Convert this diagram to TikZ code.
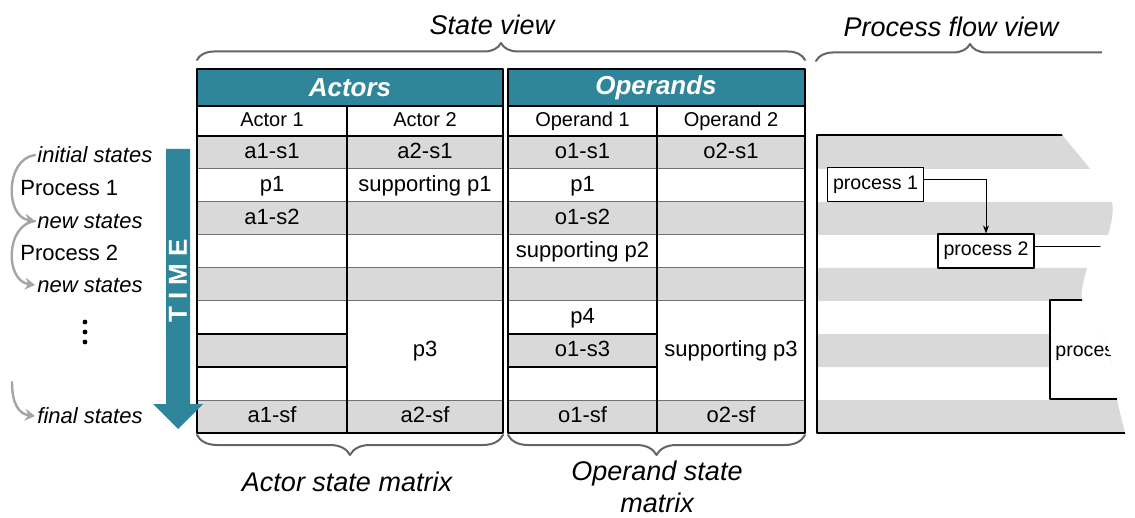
\documentclass[tikz,border=0pt]{standalone}
\usepackage{fontspec}
\setmainfont{Liberation Sans}
\usetikzlibrary{decorations.pathreplacing,arrows.meta}
\definecolor{tealhead}{RGB}{47,134,154}
\definecolor{rowgray}{RGB}{217,217,217}
\definecolor{bracegray}{RGB}{100,100,100}
\definecolor{flowgray}{RGB}{165,165,165}
\tikzset{
	viewlabel/.style={font=\fontsize{13.5}{16}\selectfont\itshape},
	headtext/.style={text=white,font=\fontsize{13}{15}\selectfont\bfseries\itshape},
	subtext/.style={font=\fontsize{10}{12}\selectfont,text height=7.2pt,text depth=2pt},
	celltext/.style={font=\fontsize{11}{13}\selectfont,text height=7.9pt,text depth=2.3pt},
	sidetext/.style={font=\fontsize{11}{13}\selectfont,anchor=west,inner sep=1pt},
	statetext/.style={sidetext,font=\fontsize{11}{13}\selectfont\itshape},
	procbox/.style={draw,fill=white,line width=0.6pt,font=\fontsize{9.8}{12}\selectfont,inner sep=1pt,minimum width=48pt,minimum height=17pt},
	viewbrace/.style={draw=bracegray,line width=1pt,decorate,decoration={brace,amplitude=8.5pt}},
	flowarrow/.style={draw=flowgray,line width=1.2pt,-{Stealth[length=5pt,width=6pt]}}
}
\begin{document}
\begin{tikzpicture}[>=stealth,line join=round,line cap=round,x=0.5pt,y=-0.5pt]
			\useasboundingbox (0,0) rectangle (1135,518);
			\fill[rowgray] (197,136) rectangle (503,169) (197,202) rectangle (503,235) (197,268) rectangle (503,301) (197,334) rectangle (347,367) (197,400) rectangle (503,433)
			(508,136) rectangle (805,169) (508,202) rectangle (805,235) (508,268) rectangle (805,301) (508,334) rectangle (657,367) (508,400) rectangle (805,433);
			\fill[tealhead] (197,69) rectangle (503,106) (508,69) rectangle (805,106);
			\draw[line width=0.5pt,black!55] (197,169)--(503,169) (197,202)--(503,202) (197,235)--(503,235) (197,268)--(503,268) (197,301)--(503,301) (197,400)--(503,400)
			(508,169)--(805,169) (508,202)--(805,202) (508,235)--(805,235) (508,268)--(805,268) (508,301)--(805,301) (508,400)--(805,400);
			\draw[line width=0.6pt] (197,136)--(503,136) (508,136)--(805,136) (197,334)--(347,334) (197,367)--(347,367) (508,334)--(657,334) (508,367)--(657,367) (347,106)--(347,433) (657,106)--(657,433);
			\draw[line width=0.9pt] (197,69) rectangle (503,433) (508,69) rectangle (805,433) (197,106)--(503,106) (508,106)--(805,106);
			\path (350,88)node[headtext](actors){Actors} (656,88)node[headtext](operands){Operands}
			(272,121)node[subtext](actor1){Actor 1} (425,121)node[subtext](actor2){Actor 2} (582.5,121)node[subtext](operand1){Operand 1} (731,121)node[subtext](operand2){Operand 2}
			(272,152.5)node[celltext](a1s1){a1-s1} (425,152.5)node[celltext](a2s1){a2-s1} (582.5,152.5)node[celltext](o1s1){o1-s1} (731,152.5)node[celltext](o2s1){o2-s1}
			(272,185.5)node[celltext](a1p1){p1} (425,185.5)node[celltext](a2p1){supporting p1} (582.5,185.5)node[celltext](o1p1){p1}
			(272,218.5)node[celltext](a1s2){a1-s2} (582.5,218.5)node[celltext](o1s2){o1-s2}
			(582.5,251.5)node[celltext](o1p2){supporting p2}
			(582.5,317.5)node[celltext](o1p4){p4} (582.5,350.5)node[celltext](o1s3){o1-s3}
			(425,350.5)node[celltext](a2p3){p3} (731,350.5)node[celltext](o2p3){supporting p3}
			(272,416.5)node[celltext](a1sf){a1-sf} (425,416.5)node[celltext](a2sf){a2-sf} (582.5,416.5)node[celltext](o1sf){o1-sf} (731,416.5)node[celltext](o2sf){o2-sf};
			\fill[tealhead] (166,149)--(190,149)--(190,404)--(203,404)--(178,429)--(153,404)--(166,404)--cycle;
			\node[rotate=90,text=white,font=\fontsize{13}{15}\selectfont\bfseries] (time) at (178,281) {T I M E};
			\path (35,155)node[statetext](ini){initial states} (18,188)node[sidetext](proc1txt){Process 1} (35,221)node[statetext](new1){new states}
			(18,253)node[sidetext](proc2txt){Process 2} (35,285)node[statetext](new2){new states} (35,416)node[statetext](fin){final states};
			\fill (85,322) circle (2.4) (85,332) circle (2.4) (85,342) circle (2.4);
			\coordinate (finstart) at (12,382);
			\draw[flowarrow] (ini.west) .. controls +(-30,4) and +(-30,-4) .. (new1.west);
			\draw[flowarrow] (new1.west) .. controls +(-30,4) and +(-30,-4) .. (new2.west);
			\draw[flowarrow] (finstart) .. controls +(0,22) and +(-16,-2) .. (fin.west);
			\begin{scope}
				\clip (800,100) -- (1062,100) -- plot[smooth] coordinates {(1062,135) (1090,169) (1112,202) (1108,235) (1096,252) (1087,268) (1082,300) (1100,330) (1110,355) (1117,399) (1125,433)} -- (1125,460) -- (800,460) -- cycle;
				\fill[rowgray] (817,136) rectangle (1140,169) (817,202) rectangle (1140,235) (817,268) rectangle (1140,301) (817,334) rectangle (1140,367) (817,400) rectangle (1140,433);
				\draw[line width=0.9pt] (1140,135) -- (817,135) -- (817,433) -- (1140,433);
				\fill[white] (1050,300) rectangle (1140,399);
				\draw[line width=0.7pt] (1140,300) -- (1050,300) -- (1050,399) -- (1140,399);
				\node[anchor=west,font=\fontsize{9.8}{12}\selectfont,inner sep=1pt] (proc3) at (1053,352) {process 3};
				\node[procbox] (proc1) at (875.5,184.5) {process 1};
				\node[procbox] (proc2) at (986,251) {process 2};
				\coordinate (p2out) at (1110,246);
				\draw[line width=0.4pt,-{Stealth[length=4pt,width=3pt]}] ([yshift=2.5pt]proc1.east) -| (proc2.north);
				\draw[line width=0.4pt] ([yshift=2.5pt]proc2.east) -- (p2out);
			\end{scope}
			\draw[viewbrace] (197,60) -- (805,60);
			\draw[viewbrace,decoration={brace,amplitude=10pt}] (503,435) -- (197,435);
			\draw[viewbrace,decoration={brace,amplitude=10pt}] (805,435) -- (508,435);
			\begin{scope}
				\clip (800,0) rectangle (1102,100);
				\draw[viewbrace] (816,61) -- (1124,61);
			\end{scope}
			\path (492,25)node[viewlabel](stateview){State view} (951,27)node[viewlabel](flowview){Process flow view}
			(347,482)node[viewlabel](actormat){Actor state matrix} (657,487)node[viewlabel,align=center](opmat){Operand state\\matrix};
		\end{tikzpicture}
\end{document}
